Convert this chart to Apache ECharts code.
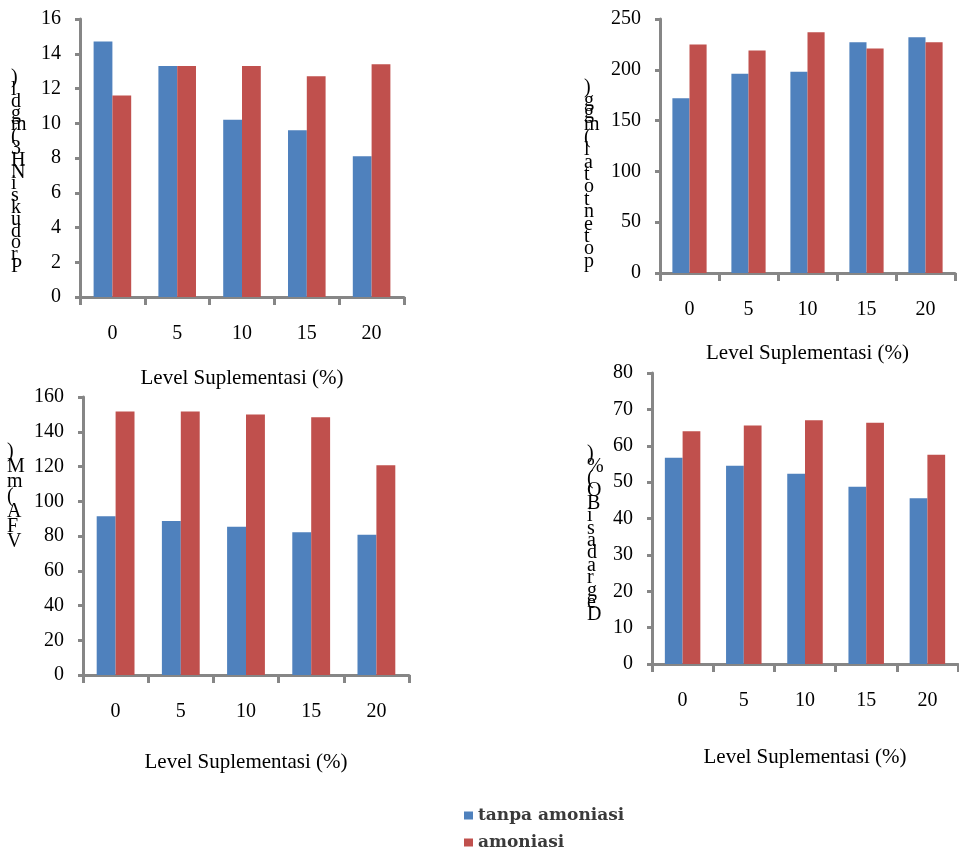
<!DOCTYPE html>
<html><head><meta charset="utf-8">
<script src="https://cdn.jsdelivr.net/npm/echarts@6/dist/echarts.min.js"></script>
<style>html,body{margin:0;padding:0;background:#fff}#c{width:959px;height:848px}</style>
</head><body><div id="c"></div>
<script>
const categories = ['0', '5', '10', '15', '20'];
const seriesNames = ['tanpa amoniasi', 'amoniasi'];
// Panel 1: Produksi NH3 (mg/dl)
const nh3Tanpa = [14.7, 13.3, 10.2, 9.6, 8.1];
const nh3Amon = [11.6, 13.3, 13.3, 12.7, 13.4];
// Panel 2: total (mg/g)
const totTanpa = [172, 196, 198, 227, 232];
const totAmon = [225, 219, 237, 221, 227];
// Panel 3: VFA (mM)
const vfaTanpa = [91.4, 88.6, 85.3, 82.2, 80.7];
const vfaAmon = [151.7, 151.7, 150, 148.3, 120.7];
// Panel 4: Degradasi BO (%)
const boTanpa = [56.7, 54.5, 52.3, 48.7, 45.6];
const boAmon = [64, 65.6, 67, 66.3, 57.5];

const yTitles = ['Produksi NH3 (mg/dl)', 'potentotal (mg/g)', 'VFA (mM)', 'Degradasi BO (%)'];
const xTitle = 'Level Suplementasi (%)';

const FONT = 'Liberation Serif';
const GRAY = '#868686';
const BLUE = '#4F81BD';
const RED = '#C0504D';

const panels = [
  {grid: {left: 80, top: 19, width: 324, height: 278}, max: 16, interval: 2, a: nh3Tanpa, b: nh3Amon, nameGap: 71, yt: {x: 21, y: 68, lh: 11.8}},
  {grid: {left: 660, top: 19, width: 295, height: 254}, max: 250, interval: 50, a: totTanpa, b: totAmon, nameGap: 70, yt: {x: 594, y: 78, lh: 12.4}},
  {grid: {left: 83, top: 397, width: 326, height: 278}, max: 160, interval: 20, a: vfaTanpa, b: vfaAmon, nameGap: 77, yt: {x: 17, y: 442, lh: 15}},
  {grid: {left: 652, top: 373, width: 306, height: 291}, max: 80, interval: 10, a: boTanpa, b: boAmon, nameGap: 83, yt: {x: 597, y: 444, lh: 12.4}}
];

const grids = [], xAxes = [], yAxes = [], series = [], graphics = [];
panels.forEach((p, i) => {
  grids.push(Object.assign({containLabel: false}, p.grid));
  xAxes.push({
    type: 'category', gridIndex: i, data: categories,
    name: xTitle, nameLocation: 'middle', nameGap: p.nameGap,
    nameTextStyle: {fontFamily: FONT, fontSize: 21, color: '#000'},
    axisLine: {lineStyle: {color: GRAY, width: 3}},
    axisTick: {show: true, length: 8, lineStyle: {color: GRAY, width: 3}},
    axisLabel: {fontFamily: FONT, fontSize: 20, color: '#000', margin: 27}
  });
  yAxes.push({
    type: 'value', gridIndex: i, min: 0, max: p.max, interval: p.interval,
    axisLine: {show: true, lineStyle: {color: GRAY, width: 3}},
    axisTick: {show: true, length: 5, lineStyle: {color: GRAY, width: 3}},
    splitLine: {show: false},
    axisLabel: {fontFamily: FONT, fontSize: 20, color: '#000', margin: 19}
  });
  series.push({name: seriesNames[0], type: 'bar', xAxisIndex: i, yAxisIndex: i, data: p.a,
    itemStyle: {color: BLUE}, barGap: '0%', barCategoryGap: '42%'});
  series.push({name: seriesNames[1], type: 'bar', xAxisIndex: i, yAxisIndex: i, data: p.b,
    itemStyle: {color: RED}, barGap: '0%', barCategoryGap: '42%'});
  const chars = yTitles[i].replace(/[ \/]/g, '').split('').reverse();
  graphics.push({
    type: 'text', left: p.yt.x - 10, top: p.yt.y,
    style: {text: chars.join('\n'), font: '20px "' + FONT + '"', fill: '#000',
      lineHeight: p.yt.lh, align: 'center', width: 20}
  });
});

const legendText = {fontFamily: 'DejaVu Serif', fontSize: 17, fontWeight: 'bold', color: '#3a3a3a'};
const chart = echarts.init(document.getElementById('c'), null, {renderer: 'canvas'});
chart.setOption({
  animation: false,
  backgroundColor: '#fff',
  grid: grids, xAxis: xAxes, yAxis: yAxes, series: series,
  graphic: graphics,
  legend: [
    {data: [seriesNames[0]], left: 459, top: 802, itemWidth: 9, itemHeight: 8, icon: 'rect', itemGap: 4, textStyle: legendText},
    {data: [seriesNames[1]], left: 459, top: 829, itemWidth: 9, itemHeight: 8, icon: 'rect', itemGap: 4, textStyle: legendText}
  ]
});
</script></body></html>
